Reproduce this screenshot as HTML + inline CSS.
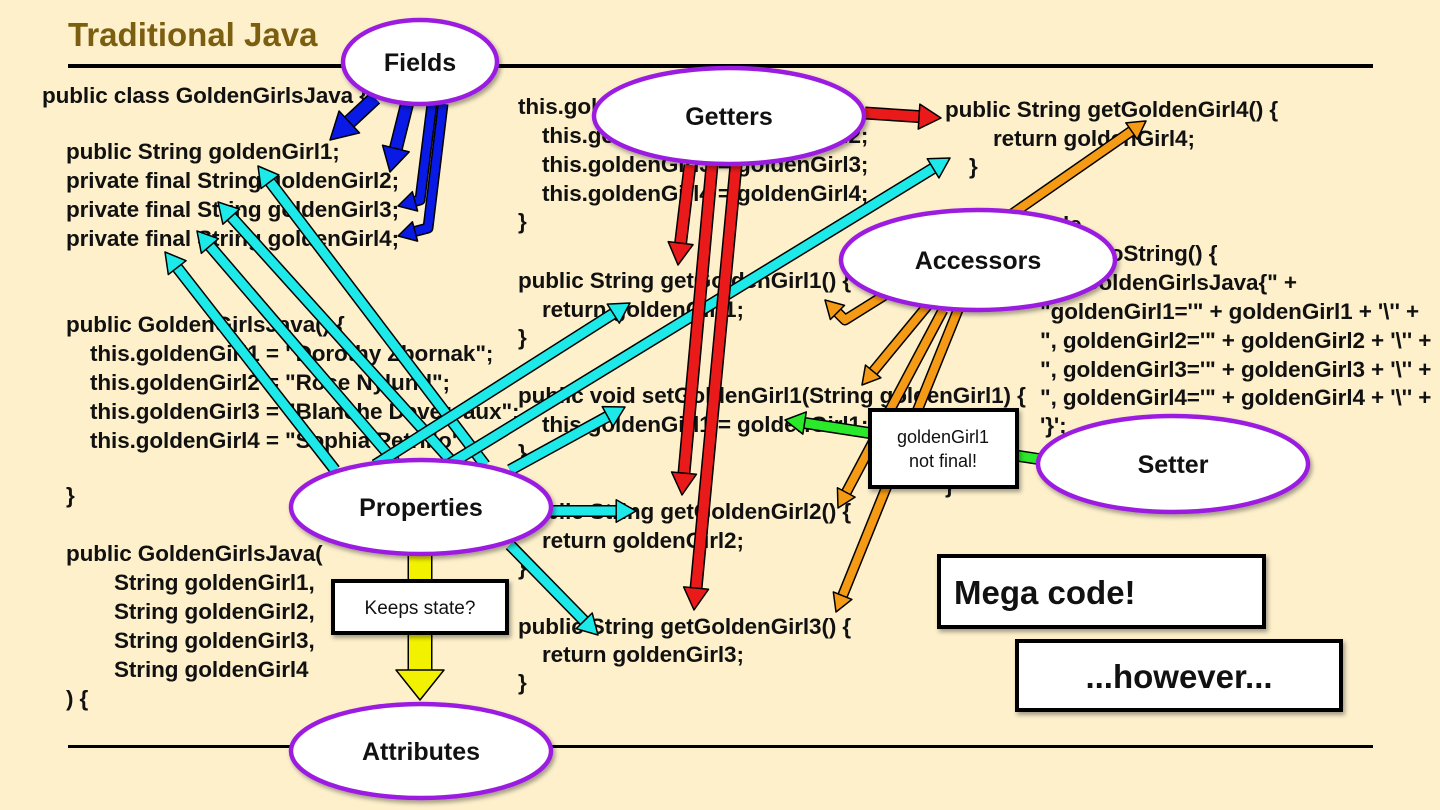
<!DOCTYPE html>
<html><head><meta charset="utf-8">
<style>
html,body{margin:0;padding:0;background:#fdf0cb;}
svg{display:block;}
.c{font-family:"Liberation Sans",sans-serif;font-weight:bold;font-size:22.5px;fill:#111;letter-spacing:-0.1px;}
.e{font-family:"Liberation Sans",sans-serif;font-weight:bold;font-size:25px;fill:#111;text-anchor:middle;}
</style></head>
<body>
<svg id="s" width="1440" height="810" viewBox="0 0 1440 810" xmlns="http://www.w3.org/2000/svg">
<defs>
<filter id="sh" x="-20%" y="-20%" width="140%" height="150%"><feDropShadow dx="2" dy="3" stdDeviation="2" flood-color="#000" flood-opacity="0.35"/></filter>
</defs>
<rect width="1440" height="810" fill="#fdf0cb"/>
<text x="68" y="46" font-family="Liberation Sans,sans-serif" font-weight="bold" font-size="33" fill="#7b5e10">Traditional Java</text>
<rect x="68" y="64" width="1305" height="4" fill="#000"/>
<rect x="68" y="745" width="1305" height="3" fill="#000"/>

<g class="c">
<text x="42" y="103">public class GoldenGirlsJava {</text>
<text x="66" y="159">public String goldenGirl1;</text>
<text x="66" y="188">private final String goldenGirl2;</text>
<text x="66" y="217">private final String goldenGirl3;</text>
<text x="66" y="246">private final String goldenGirl4;</text>
<text x="66" y="332">public GoldenGirlsJava() {</text>
<text x="90" y="361">this.goldenGirl1 = "Dorothy Zbornak";</text>
<text x="90" y="390">this.goldenGirl2 = "Rose Nylund";</text>
<text x="90" y="419">this.goldenGirl3 = "Blanche Devereaux";</text>
<text x="90" y="448">this.goldenGirl4 = "Sophia Petrillo";</text>
<text x="66" y="503">}</text>
<text x="66" y="561">public GoldenGirlsJava(</text>
<text x="114" y="590">String goldenGirl1,</text>
<text x="114" y="619">String goldenGirl2,</text>
<text x="114" y="648">String goldenGirl3,</text>
<text x="114" y="677">String goldenGirl4</text>
<text x="66" y="706">) {</text>

<text x="518" y="114">this.goldenGirl1 = goldenGirl1;</text>
<text x="542" y="143">this.goldenGirl2 = goldenGirl2;</text>
<text x="542" y="172">this.goldenGirl3 = goldenGirl3;</text>
<text x="542" y="201">this.goldenGirl4 = goldenGirl4;</text>
<text x="518" y="229">}</text>
<text x="518" y="288">public String getGoldenGirl1() {</text>
<text x="542" y="317">return goldenGirl1;</text>
<text x="518" y="345">}</text>
<text x="518" y="403">public void setGoldenGirl1(String goldenGirl1) {</text>
<text x="542" y="432">this.goldenGirl1 = goldenGirl1;</text>
<text x="518" y="460">}</text>
<text x="518" y="519">public String getGoldenGirl2() {</text>
<text x="542" y="548">return goldenGirl2;</text>
<text x="518" y="575">}</text>
<text x="518" y="634">public String getGoldenGirl3() {</text>
<text x="542" y="662">return goldenGirl3;</text>
<text x="518" y="690">}</text>

<text x="945" y="117">public String getGoldenGirl4() {</text>
<text x="993" y="146">return goldenGirl4;</text>
<text x="969" y="174">}</text>
<text x="968" y="232">@Override</text>
<text x="960" y="261">public String toString() {</text>
<text x="1000" y="290">return "GoldenGirlsJava{" +</text>
<text x="1040" y="319">"goldenGirl1='" + goldenGirl1 + '\'' +</text>
<text x="1040" y="348">", goldenGirl2='" + goldenGirl2 + '\'' +</text>
<text x="1040" y="377">", goldenGirl3='" + goldenGirl3 + '\'' +</text>
<text x="1040" y="405">", goldenGirl4='" + goldenGirl4 + '\'' +</text>
<text x="1040" y="433">'}';</text>
<text x="945" y="493">}</text>
</g>

<g id="arrows"></g>

<g stroke="#9b1fe0" stroke-width="4.5" fill="#fff" filter="url(#sh)">
<ellipse cx="420" cy="62" rx="77" ry="42"/>
<ellipse cx="729" cy="116" rx="135" ry="48"/>
<ellipse cx="978" cy="260" rx="137" ry="50"/>
<ellipse cx="421" cy="507" rx="130" ry="47"/>
<ellipse cx="1173" cy="464" rx="135" ry="48"/>
<ellipse cx="421" cy="751" rx="130" ry="47"/>
</g>
<g class="e">
<text x="420" y="71">Fields</text>
<text x="729" y="125">Getters</text>
<text x="978" y="269">Accessors</text>
<text x="421" y="516">Properties</text>
<text x="1173" y="473">Setter</text>
<text x="421" y="760">Attributes</text>
</g>

<g stroke="#000" stroke-width="4" fill="#fff" filter="url(#sh)">
<rect x="333" y="581" width="174" height="52"/>
<rect x="870" y="410" width="147" height="77"/>
<rect x="939" y="556" width="325" height="71"/>
<rect x="1017" y="641" width="324" height="69"/>
</g>
<g font-family="Liberation Sans,sans-serif" fill="#111" text-anchor="middle">
<text x="420" y="614" font-size="19">Keeps state?</text>
<text x="943" y="443" font-size="18">goldenGirl1</text>
<text x="943" y="467" font-size="18">not final!</text>
<text x="954" y="604" font-size="33" font-weight="bold" text-anchor="start">Mega code!</text>
<text x="1179" y="688" font-size="33" font-weight="bold">...however...</text>
</g>
</svg>
<script>
(function(){
var g=document.getElementById('arrows');var NS='http://www.w3.org/2000/svg';
function arrow(pts,color,w,hl,hw){
 hl=hl||w*2.2;hw=hw||w*1.25;
 var n=pts.length,a=pts[n-2],b=pts[n-1];
 var dx=b[0]-a[0],dy=b[1]-a[1],L=Math.sqrt(dx*dx+dy*dy),ux=dx/L,uy=dy/L;
 var bx=b[0]-ux*hl,by=b[1]-uy*hl;
 var p=pts.slice(0,n-1).concat([[bx+ux*1,by+uy*1]]);
 var d='M'+p.map(function(q){return q[0]+','+q[1]}).join(' L');
 var s1=document.createElementNS(NS,'path');s1.setAttribute('d',d);s1.setAttribute('fill','none');s1.setAttribute('stroke','#000');s1.setAttribute('stroke-width',w+3);s1.setAttribute('stroke-linejoin','round');g.appendChild(s1);
 var s2=document.createElementNS(NS,'path');s2.setAttribute('d',d);s2.setAttribute('fill','none');s2.setAttribute('stroke',color);s2.setAttribute('stroke-width',w);s2.setAttribute('stroke-linejoin','round');g.appendChild(s2);
 var px=-uy,py=ux;
 var h=document.createElementNS(NS,'polygon');
 h.setAttribute('points',[b[0]+','+b[1],(bx+px*hw)+','+(by+py*hw),(bx-px*hw)+','+(by-py*hw)].join(' '));
 h.setAttribute('fill',color);h.setAttribute('stroke','#000');h.setAttribute('stroke-width','1.5');h.setAttribute('stroke-linejoin','round');g.appendChild(h);
}
var B='#0a1ae6',C='#1ee9e9',R='#ea1a1a',O='#f59a14',G='#2ae82a';
arrow([[375,98],[330,140]],B,12);
arrow([[407,104],[390,172]],B,11);
arrow([[432,104],[420,200],[398,206]],B,8);
arrow([[443,104],[428,228],[398,236]],B,8);
arrow([[485,465],[258,166]],C,9);
arrow([[455,465],[218,202]],C,9);
arrow([[395,462],[197,231]],C,9);
arrow([[335,470],[165,252]],C,9);
arrow([[375,465],[630,303]],C,9);
arrow([[440,470],[950,158]],C,9);
arrow([[510,470],[625,407]],C,9);
arrow([[545,511],[636,511]],C,9);
arrow([[510,545],[598,635]],C,9);
arrow([[865,113],[941,118]],R,10);
arrow([[690,165],[678,265]],R,10);
arrow([[712,165],[682,495]],R,10);
arrow([[736,165],[694,610]],R,10);
arrow([[1012,214],[1146,121]],O,8);
arrow([[885,295],[845,320],[825,300]],O,8);
arrow([[928,305],[862,385]],O,8);
arrow([[943,310],[838,508]],O,8);
arrow([[958,310],[836,612]],O,8);
arrow([[1045,460],[785,420]],G,9);
arrow([[420,552],[420,700]],'#f2f200',22,30,24);
})();
</script>
</body></html>
